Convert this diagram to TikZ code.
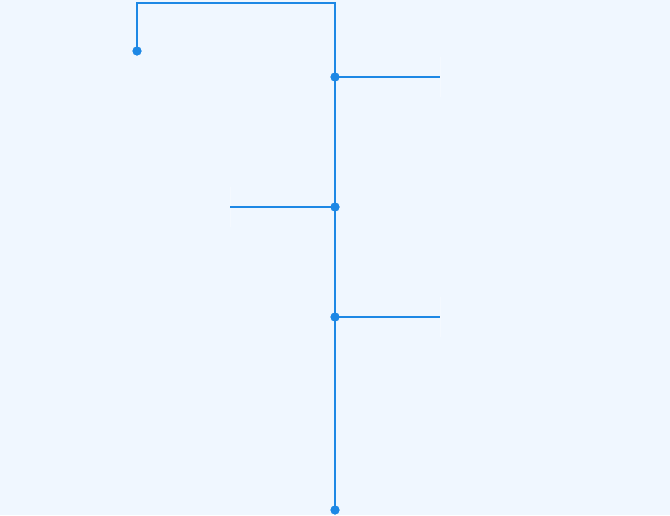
\documentclass[tikz,border=0pt]{standalone}
\usepackage{tikz}
\definecolor{bg}{HTML}{F0F7FF}
\definecolor{wire}{HTML}{1E88E5}
\definecolor{rim}{HTML}{F7FBFF}

\begin{document}
\begin{tikzpicture}[x=1pt, y=-1pt,
                    dot/.style={circle, fill=wire, inner sep=0, minimum size=9pt},
                    stub/.style={draw=rim, line width=1pt, inner sep=0, minimum width=0, minimum height=40pt},
                    wire/.style={draw=wire, line width=2pt}]
                \fill [bg] (0,0) rectangle (670,515);
                \useasboundingbox (0,0) rectangle (670,515);

                \node (s) [dot] at (137,51) {};
                \node (a) [dot] at (335,77) {};
                \node (b) [dot] at (335,207) {};
                \node (c) [dot] at (335,317) {};
                \node (d) [dot] at (335,510) {};
                \coordinate (t1) at (137,3);
                \coordinate (t2) at (335,3);

                \node (ra) [stub] at (440,77) {};
                \node (lb) [stub] at (230,207) {};
                \node (rc) [stub] at (440,317) {};

                \draw [wire] (s.center) -- (t1) -- (t2) -- (a.center) -- (b.center) -- (c.center) -- (d.center);
                \path (a.center) edge [wire] (ra.center);
                \path (b.center) edge [wire] (lb.center);
                \path (c.center) edge [wire] (rc.center);
                \foreach \n in {s,a,b,c,d} \node [dot] at (\n) {};
            \end{tikzpicture}
\end{document}
